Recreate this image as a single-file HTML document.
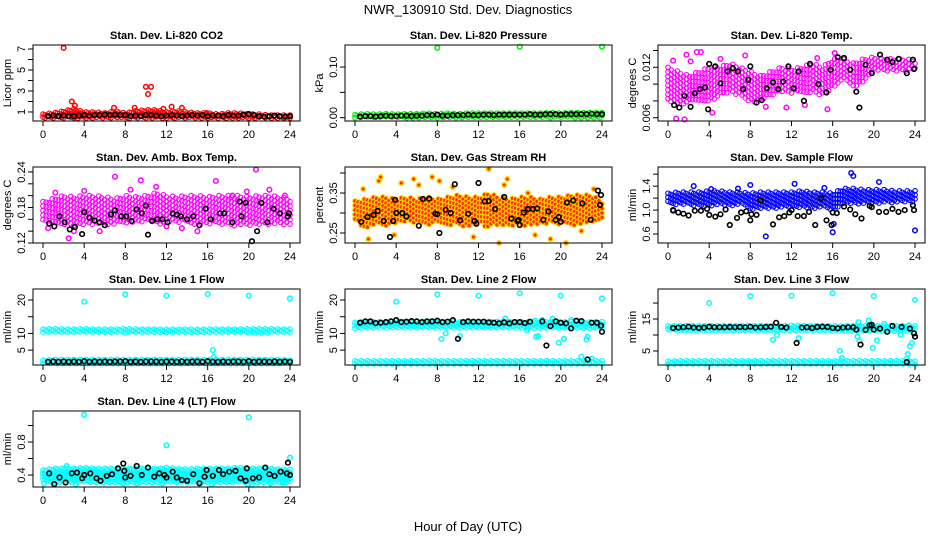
<!DOCTYPE html>
<html><head><meta charset="utf-8"><style>
html,body{margin:0;padding:0;background:#fff;}
svg{display:block;font-family:"Liberation Sans",sans-serif;}
</style></head><body>
<svg id="chart" width="936" height="540" viewBox="0 0 936 540">
<text x="468" y="14" text-anchor="middle" font-size="13">NWR_130910  Std. Dev. Diagnostics</text>
<text x="468" y="531" text-anchor="middle" font-size="13">Hour of Day (UTC)</text>
</svg>
<script>
// ---- data ----
const hours = [0,1,2,3,4,5,6,7,8,9,10,11,12,13,14,15,16,17,18,19,20,21,22,23,24];
const halfHours = [0.5,1,1.5,2,2.5,3,3.5,4,4.5,5,5.5,6,6.5,7,7.5,8,8.5,9,9.5,10,10.5,11,11.5,12,12.5,13,13.5,14,14.5,15,15.5,16,16.5,17,17.5,18,18.5,19,19.5,20,20.5,21,21.5,22,22.5,23,23.5,24];

// Panel 1: Li-820 CO2
const co2Lo = [0.4,0.4,0.4,0.4,0.4,0.4,0.4,0.4,0.4,0.4,0.4,0.4,0.4,0.4,0.4,0.4,0.4,0.4,0.4,0.4,0.4,0.4,0.4,0.4,0.4];
const co2Hi = [0.8,0.9,1.1,1.3,1.0,1.0,0.9,1.1,0.9,1.1,1.2,1.2,1.0,1.1,1.0,0.9,0.9,0.8,0.9,0.9,0.8,0.8,0.7,0.7,0.7];
const co2OutX = [2,2.8,3.1,10,10.5,10.2,6.9,8.9,12.5,13.5,11.7,15.9];
const co2OutY = [7.1,2.0,1.6,3.4,3.4,2.7,1.4,1.4,1.5,1.4,1.3,0.9];
const co2Blk = [0.6,0.65,0.6,0.65,0.6,0.6,0.65,0.7,0.65,0.7,0.7,0.75,0.7,0.75,0.7,0.7,0.6,0.65,0.6,0.7,0.7,0.65,0.6,0.65,0.7,0.65,0.6,0.65,0.7,0.65,0.7,0.6,0.65,0.65,0.6,0.7,0.65,0.65,0.75,0.8,0.7,0.6,0.55,0.6,0.65,0.6,0.55,0.6];

// Panel 2: Li-820 Pressure
const kpaLo = [0,0,0,0,0,0,0,0,0,0,0,0,0,0,0,0,0,0,0,0,0,0,0,0,0];
const kpaHi = [0.006,0.008,0.007,0.008,0.007,0.008,0.008,0.009,0.008,0.009,0.008,0.009,0.009,0.009,0.009,0.009,0.009,0.009,0.009,0.01,0.009,0.01,0.01,0.01,0.01];
const kpaOutX = [8,16,24];
const kpaOutY = [0.138,0.14,0.14];
const kpaBlk = [0.002,0.003,0.003,0.002,0.003,0.004,0.003,0.003,0.004,0.004,0.003,0.004,0.004,0.005,0.005,0.006,0.004,0.004,0.005,0.005,0.005,0.006,0.005,0.005,0.006,0.006,0.005,0.006,0.006,0.006,0.006,0.006,0.006,0.007,0.006,0.006,0.007,0.007,0.007,0.006,0.007,0.007,0.007,0.007,0.007,0.008,0.007,0.007];

// Panel 3: Li-820 Temp
const tLo = [0.008,0.0075,0.0078,0.008,0.008,0.0085,0.009,0.0085,0.0078,0.008,0.0085,0.009,0.0088,0.009,0.009,0.0085,0.0095,0.0105,0.0095,0.01,0.0115,0.0115,0.0115,0.0115,0.0118];
const tHi = [0.012,0.0115,0.011,0.0115,0.012,0.012,0.0125,0.012,0.0115,0.011,0.0115,0.012,0.0118,0.012,0.0125,0.012,0.013,0.013,0.0125,0.013,0.0132,0.013,0.013,0.013,0.0128];
const tOutX = [2.8,3.2,16.2,7.5,0.8,1.6,4.3,1.8,11.5,15.5,14.5,9.5,0.5,5.1,2.2,13.3];
const tOutY = [0.0138,0.0138,0.0137,0.0134,0.0059,0.0058,0.0066,0.0135,0.0072,0.007,0.0131,0.0073,0.0128,0.013,0.0127,0.0075];
const tBlkX = [0.6,1.1,1.6,2.2,2.6,3.1,3.6,3.9,4.0,4.6,5.1,5.8,6.3,6.8,7.3,7.8,8.0,8.6,9.1,9.6,10.2,10.7,11.2,11.7,12.2,12.7,13.2,13.8,14.6,15.4,15.8,16.5,17.1,17.7,18.3,18.6,19.2,19.8,20.6,21.3,21.8,22.4,23.2,23.8,23.9];
const tBlkY = [0.0075,0.0072,0.0086,0.0073,0.0089,0.0094,0.0096,0.007,0.0124,0.0121,0.0101,0.0115,0.0119,0.0115,0.0094,0.0105,0.0121,0.0078,0.0081,0.0095,0.0102,0.0094,0.0103,0.0121,0.0095,0.0115,0.008,0.0124,0.01,0.009,0.0117,0.0132,0.0131,0.0117,0.0091,0.0072,0.0123,0.0113,0.0135,0.0129,0.0126,0.013,0.0113,0.0129,0.0118];

// Panel 4: Amb Box Temp
const abLo = [0.155,0.15,0.15,0.148,0.15,0.152,0.15,0.152,0.15,0.155,0.155,0.15,0.152,0.155,0.155,0.15,0.152,0.15,0.15,0.148,0.15,0.15,0.152,0.15,0.15];
const abHi = [0.19,0.195,0.2,0.198,0.2,0.2,0.198,0.195,0.2,0.198,0.2,0.205,0.2,0.198,0.2,0.2,0.198,0.2,0.2,0.2,0.198,0.2,0.2,0.198,0.195];
const abOutX = [0.5,1.2,2.5,3,4,7,9.5,11,12,16.8,20.7,18.4,22,19.8,5.5,13.5,8.5,15,23.5];
const abOutY = [0.145,0.205,0.128,0.14,0.208,0.232,0.226,0.215,0.148,0.225,0.244,0.2,0.21,0.207,0.14,0.145,0.21,0.14,0.2];
const abBlkX = [0.6,1.1,1.6,2.1,2.6,3.1,3.8,4.0,4.5,5.0,5.5,6.0,6.6,7.0,7.6,8.1,8.6,9.1,9.6,10.0,10.2,10.6,11.1,11.6,12.1,12.6,13.0,13.4,14.0,14.6,15.2,15.8,16.3,17.2,17.6,18.4,19.1,19.3,19.7,20.3,20.8,21.2,21.8,22.4,23.0,23.8,23.9];
const abBlkY = [0.153,0.148,0.165,0.155,0.143,0.147,0.135,0.172,0.163,0.158,0.155,0.15,0.168,0.175,0.165,0.165,0.157,0.177,0.17,0.183,0.134,0.157,0.16,0.16,0.155,0.17,0.168,0.165,0.16,0.165,0.15,0.178,0.16,0.17,0.17,0.155,0.19,0.165,0.188,0.123,0.14,0.188,0.155,0.178,0.17,0.165,0.17];

// Panel 5: Gas Stream RH
const rhLo = [0.28,0.26,0.27,0.265,0.275,0.28,0.275,0.27,0.275,0.27,0.27,0.265,0.27,0.265,0.27,0.27,0.265,0.27,0.27,0.275,0.27,0.265,0.27,0.275,0.28];
const rhHi = [0.33,0.335,0.34,0.34,0.335,0.34,0.335,0.34,0.335,0.34,0.345,0.34,0.34,0.35,0.34,0.335,0.34,0.34,0.335,0.34,0.34,0.345,0.345,0.345,0.33];
const rhOutX = [0.8,2.5,2.3,4.5,5.7,7.5,8.2,14,14.5,14.8,16.8,13,20.5,19,1.3,11.5,3.8,6.2,9.5,17.5,22,23.2];
const rhOutY = [0.36,0.39,0.38,0.375,0.385,0.39,0.38,0.225,0.37,0.385,0.35,0.41,0.225,0.235,0.235,0.24,0.245,0.37,0.365,0.245,0.255,0.36];
const rhBlkX = [0.6,1.2,1.8,2.2,2.8,3.4,3.7,3.9,4.0,4.6,5.0,6.2,6.6,7.2,7.8,8.0,8.2,8.8,9.3,9.7,10.2,11.0,11.6,11.8,12.0,12.6,13.0,13.6,14.5,15.2,15.8,15.9,16.0,16.4,16.8,17.3,17.7,18.3,18.8,19.5,19.8,20.0,20.6,21.2,22.1,22.9,23.6,23.8,23.9];
const rhBlkY = [0.278,0.29,0.295,0.305,0.28,0.24,0.28,0.333,0.3,0.3,0.291,0.268,0.335,0.336,0.298,0.297,0.25,0.308,0.30,0.372,0.282,0.298,0.28,0.273,0.375,0.329,0.33,0.31,0.34,0.286,0.28,0.283,0.27,0.301,0.31,0.31,0.311,0.283,0.304,0.283,0.29,0.278,0.326,0.331,0.324,0.283,0.356,0.32,0.345];

// Panel 6: Sample Flow
const sfLo = [1.08,1.08,1.08,1.06,1.06,1.08,1.06,1.08,1.0,1.02,1.02,1.04,1.04,1.04,1.02,1.04,1.0,1.1,1.1,1.1,1.1,1.12,1.12,1.12,1.12];
const sfHi = [1.28,1.3,1.3,1.3,1.32,1.32,1.3,1.3,1.28,1.3,1.3,1.3,1.3,1.32,1.3,1.3,1.28,1.36,1.36,1.34,1.34,1.34,1.32,1.32,1.32];
const sfOutX = [17.8,18,9.5,16,24,12.3,8,2.5,16.1,0.5,20.5,4.2,6.8,15.2];
const sfOutY = [1.62,1.57,0.56,0.63,0.66,1.44,1.42,1.4,0.77,0.99,1.47,1.35,1.36,1.37];
const sfBlkX = [0.5,1.0,1.5,2.0,2.6,3.2,3.8,4.0,4.6,5.1,5.6,6.0,6.7,7.1,7.6,8.0,8.1,8.6,9.0,10.2,10.8,11.3,11.8,12.0,12.6,13.2,13.7,14.3,14.9,15.4,15.9,16.0,16.4,17.1,17.7,18.2,18.8,19.6,19.8,20.5,21.2,21.8,22.4,23.0,23.8,23.9];
const sfBlkY = [1.0,0.96,0.94,0.91,0.99,0.99,1.02,0.92,0.89,0.93,1.01,0.75,0.87,0.96,0.98,0.83,0.93,0.92,1.16,0.76,0.88,0.9,0.96,1.0,0.9,0.9,0.97,0.75,1.2,0.83,0.75,0.96,0.95,1.06,1.01,0.93,0.86,1.07,1.05,0.97,0.97,1.02,0.97,1.0,1.08,1.0];

// Panel 7: Line 1 Flow
const l1Lo = [10.2,10.2,10.2,10.2,10.2,10.2,10.2,10.2,10.2,10.2,10.2,10.2,10.2,10.2,10.2,10.2,10.2,10.2,10.2,10.2,10.2,10.2,10.2,10.2,10.2];
const l1Hi = [11.3,11.4,11.3,11.3,11.4,11.3,11.3,11.3,11.4,11.3,11.3,11.3,11.2,11.3,11.3,11.2,11.3,11.3,11.3,11.3,11.4,11.4,11.4,11.3,11.3];
const l1Lo2 = [1.0,1.0,1.0,1.0,1.0,1.0,1.0,1.0,1.0,1.0,1.0,1.0,1.0,1.0,1.0,1.0,1.0,1.0,1.0,1.0,1.0,1.0,1.0,1.0,1.0];
const l1Hi2 = [2.0,2.2,2.2,2.2,2.2,2.2,2.2,2.2,2.2,2.2,2.2,2.2,2.2,2.2,2.2,2.2,2.2,2.2,2.2,2.2,2.2,2.2,2.2,2.2,2.0];
const l1OutX = [4,8,12,16,20,24,16.5,16.6];
const l1OutY = [19.5,21.7,21.3,21.8,21.3,20.5,5,2.9];
const l1Blk = [1.5,1.6,1.5,1.6,1.5,1.6,1.5,1.7,1.5,1.6,1.5,1.6,1.5,1.6,1.6,1.7,1.5,1.6,1.5,1.6,1.6,1.6,1.5,1.6,1.6,1.5,1.6,1.5,1.6,1.6,1.5,1.7,1.5,1.5,1.6,1.5,1.6,1.6,1.5,1.7,1.5,1.6,1.6,1.5,1.6,1.5,1.6,1.5];

// Panel 8: Line 2 Flow
const l2Lo = [11.5,11.6,11.6,11.5,11.6,11.6,11.5,11.6,11.6,11.5,11.5,11.6,11.6,11.5,11.6,11.5,11.5,11.5,11.5,11.5,11.5,11.5,11.5,11.5,11.5];
const l2Hi = [13.3,13.5,13.5,13.5,13.6,13.5,13.5,13.6,13.5,13.5,13.4,13.5,13.5,13.5,13.6,13.5,13.5,13.4,13.4,13.5,13.4,13.5,13.4,13.4,13.5];
const l2Lo2 = [0.8,0.8,0.8,0.8,0.8,0.8,0.8,0.8,0.8,0.8,0.8,0.8,0.8,0.8,0.8,0.8,0.8,0.8,0.8,0.8,0.8,0.8,0.8,0.8,0.8];
const l2Hi2 = [1.8,1.8,1.8,1.8,1.8,1.8,1.8,1.8,1.8,1.8,1.8,1.8,1.8,1.8,1.8,1.8,1.8,1.8,1.8,1.8,1.8,1.8,1.8,1.8,1.8];
const l2OutX = [4,8,12,16,20,24,8.4,8.8,10.2,17.6,17.8,18.2,19.2,19.8,20.3,22.5,22.6,21,22,23,16.7,17.5,14.6];
const l2OutY = [19.5,21.7,21.3,22,21.3,20.5,8.3,10,9.2,9,9.2,14,14.4,7.2,8.4,8.2,9,14,3,2.5,11,13.8,14.5];
const l2BlkX = [0.5,1,1.5,2,2.5,3,3.5,4,4.5,5,5.5,6,6.5,7,7.5,8,8.5,9,9.5,10,10.5,11,11.5,12,12.5,13,13.5,14,14.5,15,15.5,16,16.5,17,18.2,18.6,19,19.5,20,20.5,21,21.5,22,22.6,23,23.5,23.9,24];
const l2BlkY = [13.2,13.6,13.6,13.1,13.2,13.4,13.6,14.0,13.4,13.5,13.7,13.6,13.4,13.6,13.6,13.8,13.4,13.5,14.0,8.4,13.4,13.6,13.5,13.5,13.5,13.3,13.2,13.0,13.3,13.0,13.4,13.4,13.1,13.5,13.6,6.4,12.2,13.6,13.2,13.0,11.5,13.8,13.7,2.2,13.2,13.2,12.3,10.5];

// Panel 9: Line 3 Flow
const l3Lo = [11.3,11.3,11.3,11.3,11.3,11.3,11.3,11.3,11.3,11.3,11.3,11.3,11.3,11.3,11.3,11.3,11.2,11.2,11.2,11.2,11.2,11.2,11.2,11.2,11.3];
const l3Hi = [12.8,12.9,12.9,12.9,12.9,12.9,12.9,12.9,12.9,12.9,12.9,12.9,13.0,12.9,12.9,12.9,12.9,12.8,12.9,12.9,12.9,12.8,12.8,12.9,12.8];
const l3Lo2 = [0.8,0.8,0.8,0.8,0.8,0.8,0.8,0.8,0.8,0.8,0.8,0.8,0.8,0.8,0.8,0.8,0.8,0.8,0.8,0.8,0.8,0.8,0.8,0.8,0.8];
const l3Hi2 = [1.8,1.9,1.9,1.9,1.9,1.9,1.9,1.9,1.9,1.9,1.9,1.9,1.9,1.9,1.9,1.9,1.9,1.9,1.9,1.9,1.9,1.9,1.9,1.9,1.8];
const l3OutX = [4,8,12,16,20,24,10.2,10.6,12.7,16.7,16.9,18.4,18.6,18.5,19.5,19.9,20.3,21,22.6,23.2,23.3,23.5,23.7,23.4];
const l3OutY = [20,22.2,22.3,23.1,22.2,21,8.5,10,9,5,2.8,9.5,8.2,14,14.5,6,8.3,13.5,10,2.5,4,6.5,7.5,13];
const l3BlkX = [0.5,1,1.5,2,2.5,3,3.5,4,4.5,5,5.5,6,6.5,7,7.5,8,8.5,9,9.5,10,10.5,11,11.5,12.5,13,13.5,14,14.5,15,15.5,16,16.5,17,17.5,18,18.3,18.7,19.2,19.6,19.8,20,20.6,21.3,21.8,22.7,23.2,23.5,23.9,24];
const l3BlkY = [12.2,12.3,12.4,12.6,12.3,12.2,12.3,12.6,12.4,12.4,12.4,12.5,12.4,12.5,12.4,12.6,12.3,12.4,12.5,12.6,13.8,12.5,12.3,7.5,12.3,12.4,12.2,12.5,12.6,12.5,12.2,12.1,12.3,12.4,12.4,11.7,7,11.6,13,13.2,11.7,12.0,11.0,12.8,12.5,1.5,12.0,10.5,9.5];

// Panel 10: Line 4 (LT) Flow
const l4Lo = [0.32,0.31,0.31,0.31,0.31,0.31,0.31,0.31,0.31,0.31,0.31,0.31,0.31,0.31,0.31,0.31,0.31,0.31,0.31,0.31,0.31,0.31,0.31,0.31,0.31];
const l4Hi = [0.46,0.48,0.48,0.48,0.49,0.48,0.48,0.48,0.48,0.48,0.48,0.48,0.49,0.48,0.47,0.48,0.48,0.48,0.48,0.49,0.48,0.48,0.48,0.47,0.47];
const l4OutX = [4,12,20,24,19.9,0.1,3.2,7.8,9.1,11.6,16.4,20.3,22.1,2.3,23.3];
const l4OutY = [1.13,0.76,1.1,0.61,0.29,0.3,0.29,0.3,0.3,0.3,0.29,0.28,0.3,0.51,0.31];
const l4BlkX = [0.6,1.1,1.6,2.2,2.8,3.3,3.8,4.0,4.6,5.2,5.6,6.2,6.7,7.3,7.8,7.9,8.0,8.5,9.1,9.6,10.2,10.8,11.3,11.8,12.0,12.6,13.0,13.5,14.0,14.6,15.2,15.7,15.9,16.5,17.1,17.5,18.1,18.7,19.2,19.7,19.8,20.4,21.0,21.6,22.0,22.5,23.1,23.7,23.8,24.0];
const l4BlkY = [0.42,0.29,0.37,0.31,0.42,0.43,0.36,0.4,0.42,0.36,0.33,0.39,0.41,0.48,0.54,0.45,0.37,0.39,0.51,0.4,0.49,0.38,0.42,0.4,0.37,0.44,0.37,0.34,0.33,0.41,0.3,0.38,0.46,0.39,0.46,0.41,0.44,0.45,0.36,0.33,0.48,0.36,0.37,0.49,0.41,0.39,0.44,0.42,0.55,0.4];

// ---- rendering ----
const NS = "http://www.w3.org/2000/svg";
const svg = document.getElementById("chart");
const colLeft = [33, 345, 658], colW = 267;
const rowTop = [45, 167, 289, 411], rowH = 76;

function mk(tag, attrs, parent) {
  const e = document.createElementNS(NS, tag);
  for (const k in attrs) e.setAttribute(k, attrs[k]);
  (parent || svg).appendChild(e);
  return e;
}

function drawPanel(p) {
  const L = colLeft[p.col], T = rowTop[p.row], B = T + rowH, R = L + colW;
  const hstep = p.hstep || 0.2, vstep = p.vstep || 3;
  const g = mk("g", {});
  
  
  const xs = v => L + 10 + v * (colW - 20) / 24;
  const ys = v => B - (v - p.ymin) / (p.ymax - p.ymin) * rowH;

  const marks = mk("g", {}, g);
  
  

  function circ(x, y, stroke, fill, sw, nm) {
    const c = mk("circle", {cx: x.toFixed(1), cy: y.toFixed(1), r: 2.3, fill: fill || "none", stroke: stroke, "stroke-width": sw || 1.2}, marks);
    
    
  }
  function band(lo, hi, nm) {
    let k = 0;
    for (let h = 0; h <= 24.001; h += hstep, k++) {
      const i = Math.min(23, Math.floor(h)), f = h - i;
      const vlo = lo[i] + (lo[i + 1] - lo[i]) * f;
      const vhi = hi[i] + (hi[i + 1] - hi[i]) * f;
      const yTop = ys(vhi), yBot = ys(vlo);
      const off = (k % 3) * vstep / 3;
      for (let y = yTop + off; y <= yBot + 0.01; y += vstep) {
        circ(xs(h), y, p.color, p.fill, 1.1, nm);
      }
    }
  }
  band(p.lo, p.hi, p.name + '-band');
  if (p.lo2) band(p.lo2, p.hi2, p.name + '-low-band');
  for (let i = 0; i < p.outX.length; i++) circ(xs(p.outX[i]), ys(p.outY[i]), p.color, p.fill, 1.5, p.name + '-outlier');
  for (let i = 0; i < p.blkY.length; i++) circ(xs(p.blkX[i]), ys(p.blkY[i]), "#000", null, 1.6, p.name + '-black-point');

  const box = mk("rect", {x: L, y: T, width: colW, height: rowH, fill: "none", stroke: "#000", "stroke-width": 1}, g);
  
  

  const t = mk("text", {x: (L + R) / 2, y: T - 6, "text-anchor": "middle", "font-size": 11, "font-weight": "bold"}, g);
  t.textContent = p.title;
  
  

  for (let h = 0; h <= 24; h += 4) {
    mk("line", {x1: xs(h), x2: xs(h), y1: B, y2: B + 5, stroke: "#000"}, g);
    const tl = mk("text", {x: xs(h), y: B + 17, "text-anchor": "middle", "font-size": 11}, g);
    tl.textContent = h;
    
    
  }
  for (let i = 0; i < p.ticks.length; i++) {
    const yy = ys(p.ticks[i]);
    mk("line", {x1: L - 5, x2: L, y1: yy, y2: yy, stroke: "#000"}, g);
  }
  for (let i = 0; i < p.labels.length; i++) {
    const yy = ys(p.labels[i]);
    const tl = mk("text", {x: L - 8, y: yy, "text-anchor": "middle", "font-size": 11, transform: "rotate(-90 " + (L - 8) + " " + yy + ")"}, g);
    tl.textContent = p.labelText[i];
    
    
  }
  const yl = mk("text", {x: L - 22, y: (T + B) / 2, "text-anchor": "middle", "font-size": 11, transform: "rotate(-90 " + (L - 22) + " " + ((T + B) / 2) + ")"}, g);
  yl.textContent = p.ylab;
  
  
}

const mag = "#ff00ff", cy = "#00ffff";
drawPanel({name: "co2-panel", col: 0, row: 0, title: "Stan. Dev. Li-820 CO2", ylab: "Licor ppm", ymin: 0.14, ymax: 7.38,
  ticks: [1,2,3,4,5,6,7], labels: [1,3,5,7], labelText: ["1","3","5","7"], color: "#ff0000",
  lo: co2Lo, hi: co2Hi, outX: co2OutX, outY: co2OutY, blkX: halfHours, blkY: co2Blk});
drawPanel({name: "pressure-panel", col: 1, row: 0, title: "Stan. Dev. Li-820 Pressure", ylab: "kPa", ymin: -0.0065, ymax: 0.1435,
  ticks: [0,0.05,0.1], labels: [0,0.1], labelText: ["0.00","0.10"], color: "#00ee00",
  lo: kpaLo, hi: kpaHi, outX: kpaOutX, outY: kpaOutY, blkX: halfHours, blkY: kpaBlk});
drawPanel({name: "li820-temp-panel", col: 2, row: 0, title: "Stan. Dev. Li-820 Temp.", ylab: "degrees C", ymin: 0.00561, ymax: 0.01465,
  ticks: [0.006,0.008,0.010,0.012,0.014], labels: [0.006,0.012], labelText: ["0.006","0.012"], color: mag, hstep: 0.3, vstep: 4.5,
  lo: tLo, hi: tHi, outX: tOutX, outY: tOutY, blkX: tBlkX, blkY: tBlkY});
drawPanel({name: "amb-box-temp-panel", col: 0, row: 1, title: "Stan. Dev. Amb. Box Temp.", ylab: "degrees C", ymin: 0.12, ymax: 0.2484,
  ticks: [0.12,0.14,0.16,0.18,0.20,0.22,0.24], labels: [0.12,0.18,0.24], labelText: ["0.12","0.18","0.24"], color: mag, hstep: 0.3, vstep: 4.5,
  lo: abLo, hi: abHi, outX: abOutX, outY: abOutY, blkX: abBlkX, blkY: abBlkY});
drawPanel({name: "gas-rh-panel", col: 1, row: 1, title: "Stan. Dev. Gas Stream RH", ylab: "percent", ymin: 0.225, ymax: 0.415,
  ticks: [0.25,0.30,0.35,0.40], labels: [0.25,0.35], labelText: ["0.25","0.35"], color: "#ffd800", fill: "#ff3000", hstep: 0.3, vstep: 4.5,
  lo: rhLo, hi: rhHi, outX: rhOutX, outY: rhOutY, blkX: rhBlkX, blkY: rhBlkY});
drawPanel({name: "sample-flow-panel", col: 2, row: 1, title: "Stan. Dev. Sample Flow", ylab: "ml/min", ymin: 0.45, ymax: 1.72,
  ticks: [0.6,0.8,1.0,1.2,1.4,1.6], labels: [0.6,1.0,1.4], labelText: ["0.6","1.0","1.4"], color: "#0000ff", hstep: 0.25, vstep: 4,
  lo: sfLo, hi: sfHi, outX: sfOutX, outY: sfOutY, blkX: sfBlkX, blkY: sfBlkY});
drawPanel({name: "line1-flow-panel", col: 0, row: 2, title: "Stan. Dev. Line 1 Flow", ylab: "ml/min", ymin: 0.55, ymax: 23.3,
  ticks: [5,10,15,20], labels: [5,10,20], labelText: ["5","10","20"], color: cy,
  lo: l1Lo, hi: l1Hi, lo2: l1Lo2, hi2: l1Hi2, outX: l1OutX, outY: l1OutY, blkX: halfHours, blkY: l1Blk});
drawPanel({name: "line2-flow-panel", col: 1, row: 2, title: "Stan. Dev. Line 2 Flow", ylab: "ml/min", ymin: 0.55, ymax: 23.3,
  ticks: [5,10,15,20], labels: [5,10,20], labelText: ["5","10","20"], color: cy,
  lo: l2Lo, hi: l2Hi, lo2: l2Lo2, hi2: l2Hi2, outX: l2OutX, outY: l2OutY, blkX: l2BlkX, blkY: l2BlkY});
drawPanel({name: "line3-flow-panel", col: 2, row: 2, title: "Stan. Dev. Line 3 Flow", ylab: "ml/min", ymin: 0.6, ymax: 24.4,
  ticks: [5,10,15,20], labels: [5,15], labelText: ["5","15"], color: cy,
  lo: l3Lo, hi: l3Hi, lo2: l3Lo2, hi2: l3Hi2, outX: l3OutX, outY: l3OutY, blkX: l3BlkX, blkY: l3BlkY});
drawPanel({name: "line4-flow-panel", col: 0, row: 3, title: "Stan. Dev. Line 4 (LT) Flow", ylab: "ml/min", ymin: 0.255, ymax: 1.176,
  ticks: [0.4,0.6,0.8,1.0], labels: [0.4,0.8], labelText: ["0.4","0.8"], color: cy,
  lo: l4Lo, hi: l4Hi, outX: l4OutX, outY: l4OutY, blkX: l4BlkX, blkY: l4BlkY});
</script>
</body></html>
